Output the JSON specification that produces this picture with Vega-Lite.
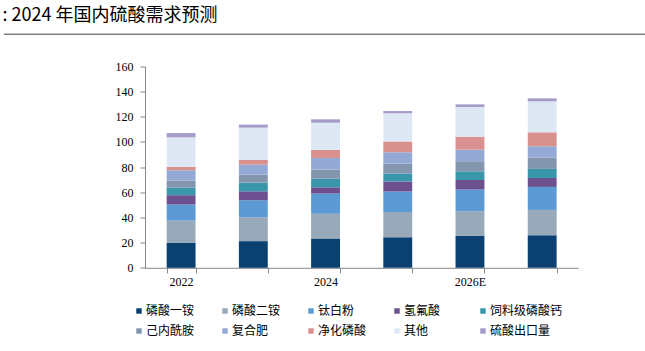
{
  "$schema": "https://vega.github.io/schema/vega-lite/v6.json",
  "padding": {"left": 0, "top": 6.5, "right": 0, "bottom": 0},
  "background": "white",
  "title": {"text": ": 2024 年国内硫酸需求预测", "anchor": "start", "frame": "bounds", "fontSize": 18, "font": "Noto Sans CJK SC", "fontWeight": "normal", "color": "#000000", "dx": 2, "offset": 8.5},
  "width": 433.3,
  "height": 201.3,
  "config": {"view": {"stroke": null}},
  "resolve": {"scale": {"x": "independent"}, "axis": {"x": "independent"}},
  "layer": [
    {
      "data": {"values": [{"v": 0}, {"v": 1}]},
      "mark": {"type": "point", "opacity": 0},
      "encoding": {
        "x": {"field": "v", "type": "quantitative", "scale": {"domain": [0, 1], "range": [-141.7, 502.3], "nice": false, "zero": false},
          "axis": {"orient": "top", "offset": 32.7, "title": null, "labels": false, "ticks": false, "grid": false, "domainColor": "#808080", "domainWidth": 1.5}}
      }
    },
    {
      "data": {"values": [
        {"year": "2022", "type": "磷酸一铵", "k": 1, "v": 20},
        {"year": "2022", "type": "磷酸二铵", "k": 2, "v": 17.5},
        {"year": "2022", "type": "钛白粉", "k": 3, "v": 12.8},
        {"year": "2022", "type": "氢氟酸", "k": 4, "v": 7.4},
        {"year": "2022", "type": "饲料级磷酸钙", "k": 5, "v": 6.1},
        {"year": "2022", "type": "己内酰胺", "k": 6, "v": 5.5},
        {"year": "2022", "type": "复合肥", "k": 7, "v": 8.2},
        {"year": "2022", "type": "净化磷酸", "k": 8, "v": 2.7},
        {"year": "2022", "type": "其他", "k": 9, "v": 23.5},
        {"year": "2022", "type": "硫酸出口量", "k": 10, "v": 3.4},
        {"year": "2023", "type": "磷酸一铵", "k": 1, "v": 21.2},
        {"year": "2023", "type": "磷酸二铵", "k": 2, "v": 19},
        {"year": "2023", "type": "钛白粉", "k": 3, "v": 13.5},
        {"year": "2023", "type": "氢氟酸", "k": 4, "v": 7.1},
        {"year": "2023", "type": "饲料级磷酸钙", "k": 5, "v": 6.9},
        {"year": "2023", "type": "己内酰胺", "k": 6, "v": 6.4},
        {"year": "2023", "type": "复合肥", "k": 7, "v": 7.9},
        {"year": "2023", "type": "净化磷酸", "k": 8, "v": 3.7},
        {"year": "2023", "type": "其他", "k": 9, "v": 25.7},
        {"year": "2023", "type": "硫酸出口量", "k": 10, "v": 2.4},
        {"year": "2024", "type": "磷酸一铵", "k": 1, "v": 23.3},
        {"year": "2024", "type": "磷酸二铵", "k": 2, "v": 19.6},
        {"year": "2024", "type": "钛白粉", "k": 3, "v": 16.1},
        {"year": "2024", "type": "氢氟酸", "k": 4, "v": 5},
        {"year": "2024", "type": "饲料级磷酸钙", "k": 5, "v": 6.9},
        {"year": "2024", "type": "己内酰胺", "k": 6, "v": 7.1},
        {"year": "2024", "type": "复合肥", "k": 7, "v": 9.3},
        {"year": "2024", "type": "净化磷酸", "k": 8, "v": 6.4},
        {"year": "2024", "type": "其他", "k": 9, "v": 21.6},
        {"year": "2024", "type": "硫酸出口量", "k": 10, "v": 2.7},
        {"year": "2025", "type": "磷酸一铵", "k": 1, "v": 24.3},
        {"year": "2025", "type": "磷酸二铵", "k": 2, "v": 20.1},
        {"year": "2025", "type": "钛白粉", "k": 3, "v": 16.2},
        {"year": "2025", "type": "氢氟酸", "k": 4, "v": 7.9},
        {"year": "2025", "type": "饲料级磷酸钙", "k": 5, "v": 6.4},
        {"year": "2025", "type": "己内酰胺", "k": 6, "v": 7.9},
        {"year": "2025", "type": "复合肥", "k": 7, "v": 9},
        {"year": "2025", "type": "净化磷酸", "k": 8, "v": 8.5},
        {"year": "2025", "type": "其他", "k": 9, "v": 22.5},
        {"year": "2025", "type": "硫酸出口量", "k": 10, "v": 1.8},
        {"year": "2026E", "type": "磷酸一铵", "k": 1, "v": 25.4},
        {"year": "2026E", "type": "磷酸二铵", "k": 2, "v": 19.6},
        {"year": "2026E", "type": "钛白粉", "k": 3, "v": 17.2},
        {"year": "2026E", "type": "氢氟酸", "k": 4, "v": 7.6},
        {"year": "2026E", "type": "饲料级磷酸钙", "k": 5, "v": 6.9},
        {"year": "2026E", "type": "己内酰胺", "k": 6, "v": 8},
        {"year": "2026E", "type": "复合肥", "k": 7, "v": 9.2},
        {"year": "2026E", "type": "净化磷酸", "k": 8, "v": 10.3},
        {"year": "2026E", "type": "其他", "k": 9, "v": 23.6},
        {"year": "2026E", "type": "硫酸出口量", "k": 10, "v": 2.1},
        {"year": "2027E", "type": "磷酸一铵", "k": 1, "v": 25.9},
        {"year": "2027E", "type": "磷酸二铵", "k": 2, "v": 20.1},
        {"year": "2027E", "type": "钛白粉", "k": 3, "v": 18.3},
        {"year": "2027E", "type": "氢氟酸", "k": 4, "v": 7.1},
        {"year": "2027E", "type": "饲料级磷酸钙", "k": 5, "v": 7.2},
        {"year": "2027E", "type": "己内酰胺", "k": 6, "v": 9},
        {"year": "2027E", "type": "复合肥", "k": 7, "v": 9},
        {"year": "2027E", "type": "净化磷酸", "k": 8, "v": 11.1},
        {"year": "2027E", "type": "其他", "k": 9, "v": 24.6},
        {"year": "2027E", "type": "硫酸出口量", "k": 10, "v": 2.4}
      ]},
      "mark": {"type": "bar"},
      "encoding": {
        "x": {"field": "year", "type": "nominal", "sort": null,
          "scale": {"paddingInner": 0.6, "paddingOuter": 0.3},
          "axis": {"orient": "bottom", "title": null, "labelAngle": 0, "labelExpr": "indexof(['2022','2024','2026E'], datum.value) >= 0 ? datum.label : ''",
            "tickBand": "extent", "domainColor": "#868686", "tickColor": "#868686", "tickSize": 5,
            "labelFont": "Liberation Serif", "labelFontSize": 12, "labelColor": "#000000", "labelPadding": 4}},
        "y": {"field": "v", "type": "quantitative", "stack": "zero",
          "scale": {"domain": [0, 160], "nice": false},
          "axis": {"title": null, "values": [0, 20, 40, 60, 80, 100, 120, 140, 160], "grid": false,
            "domainColor": "#868686", "tickColor": "#868686", "tickSize": 5,
            "labelFont": "Liberation Serif", "labelFontSize": 12, "labelColor": "#000000", "labelPadding": 7}},
        "color": {"field": "type", "type": "nominal",
          "scale": {"domain": ["磷酸一铵", "磷酸二铵", "钛白粉", "氢氟酸", "饲料级磷酸钙", "己内酰胺", "复合肥", "净化磷酸", "其他", "硫酸出口量"],
            "range": ["#0b4171", "#98a9b9", "#5b9ad5", "#6d5090", "#3a97ab", "#8396ad", "#95a9d6", "#d9918f", "#dde8f4", "#a69cc7"]},
          "legend": {"title": null, "orient": "none", "legendX": -12, "legendY": 238.5, "direction": "horizontal", "columns": 5, "gridAlign": "all",
            "symbolType": "square", "symbolSize": 30, "symbolStrokeWidth": 0,
            "labelFont": "Noto Sans CJK SC", "labelFontSize": 12, "labelColor": "#000000", "labelOffset": 1,
            "columnPadding": -5.5, "rowPadding": 8}},
        "order": {"field": "k", "type": "quantitative"}
      }
    }
  ]
}
